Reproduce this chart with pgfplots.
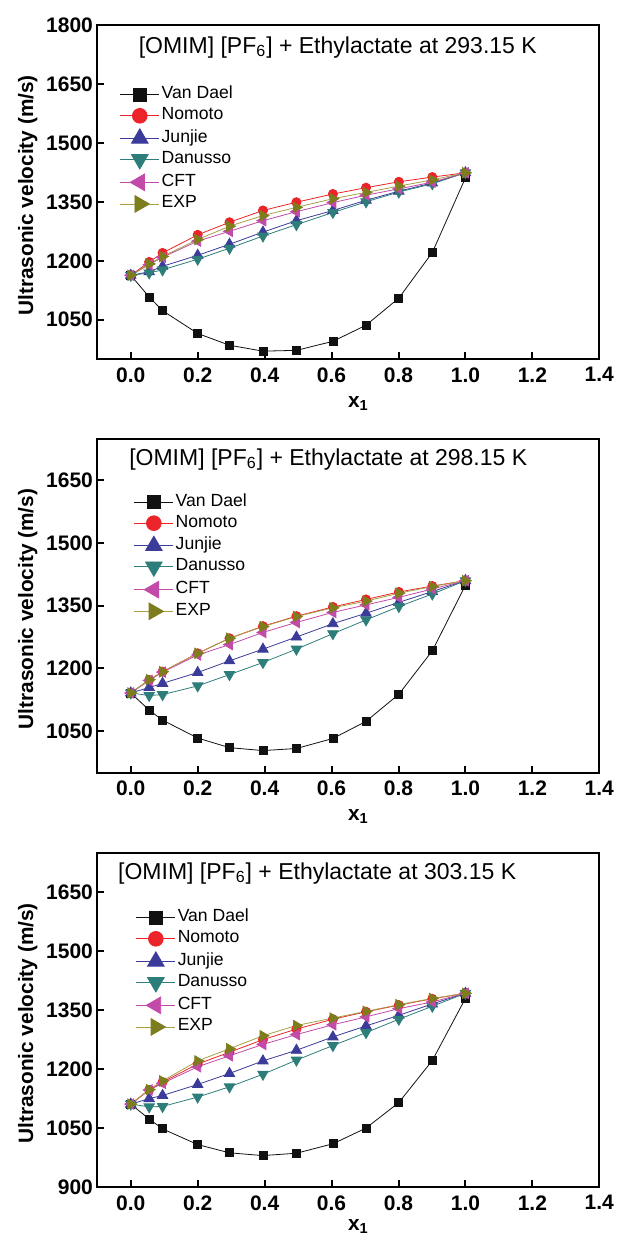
\documentclass[border=0pt]{standalone}
\usepackage{fontspec}
\setmainfont{Liberation Sans}
\usepackage{pgfplots}
\pgfplotsset{compat=1.18}
\usepackage{pgfplotstable}

\definecolor{cvd}{HTML}{111111}
\definecolor{cno}{HTML}{EC2328}
\definecolor{cju}{HTML}{3B3B99}
\definecolor{cda}{HTML}{2D7E7A}
\definecolor{ccf}{HTML}{C24AA8}
\definecolor{cex}{HTML}{7D7D1E}
\definecolor{lex}{HTML}{A89F45}

\pgfplotstableread{
x vd no ju da cf ex
0.000 1163 1163 1163 1163 1163 1163
0.055 1108 1197 1172 1169 1190 1192
0.095 1073 1220 1186 1177 1209 1211
0.200 1015 1266 1214 1204 1250 1254
0.295 985 1298 1242 1232 1275 1288
0.395 970 1328 1273 1263 1302 1315
0.495 972 1349 1302 1292 1325 1336
0.604 995 1370 1328 1323 1348 1358
0.703 1036 1386 1354 1350 1367 1374
0.801 1105 1401 1377 1375 1383 1390
0.901 1221 1413 1398 1396 1400 1406
1.000 1411 1424 1424 1424 1424 1424
}\tA
\pgfplotstableread{
x vd no ju da cf ex
0.000 1141 1141 1141 1141 1141 1141
0.055 1100 1172 1154 1135 1171 1173
0.095 1076 1192 1164 1137 1191 1192
0.200 1033 1236 1190 1158 1232 1236
0.295 1010 1272 1218 1185 1257 1272
0.395 1003 1301 1246 1214 1286 1300
0.495 1008 1325 1275 1246 1310 1324
0.604 1032 1347 1307 1283 1334 1345
0.703 1073 1365 1332 1316 1352 1361
0.801 1138 1383 1358 1348 1370 1380
0.901 1242 1397 1384 1378 1390 1396
1.000 1399 1410 1410 1410 1410 1410
}\tB
\pgfplotstableread{
x vd no ju da cf ex
0.000 1111 1111 1111 1111 1111 1111
0.055 1073 1147 1125 1104 1147 1148
0.095 1048 1167 1133 1105 1164 1170
0.200 1008 1213 1161 1129 1206 1221
0.295 987 1243 1189 1155 1234 1252
0.395 980 1275 1221 1187 1263 1285
0.495 986 1302 1248 1223 1288 1311
0.604 1010 1327 1282 1260 1313 1330
0.703 1050 1346 1310 1293 1333 1347
0.801 1115 1363 1337 1327 1354 1364
0.901 1222 1379 1366 1360 1371 1380
1.000 1380 1393 1393 1393 1393 1393
}\tC

\pgfplotsset{
  panel/.style={
    width=251pt, height=167pt, scale only axis,
    xmin=-0.1, xmax=1.4,
    xtick={0,0.2,0.4,0.6,0.8,1.0,1.2,1.4},
    axis line style={line width=1pt},
    major tick length=3.5pt,
    major tick style={line width=1pt, black},
    tick align=inside, xtick pos=bottom, ytick pos=left,
    tick label style={font=\fontsize{10.5}{12}\selectfont\bfseries},
    /pgf/number format/assume math mode=true,
    /pgf/number format/1000 sep={},
    xticklabel style={/pgf/number format/fixed, /pgf/number format/fixed zerofill, /pgf/number format/precision=1, inner sep=4pt},
    yticklabel style={inner sep=2pt},
    xlabel={x\textsubscript{1}},
    ylabel={Ultrasonic velocity (m/s)},
    label style={font=\fontsize{10.4}{12}\selectfont\bfseries},
    xlabel style={at={(rel axis cs:0.52,-0.132)}, anchor=center},
    ylabel style={at={(rel axis cs:-0.1388,0.49)}, anchor=center},
    legend cell align=left,
    legend image code/.code={\draw[mark repeat=2,mark phase=2,##1,every mark/.append style={scale=1.6}] plot coordinates {(0pt,0pt) (9.75pt,0pt) (19.5pt,0pt)};},
    legend style={draw=none, fill=none, anchor=north west, inner sep=0pt, outer sep=0pt, row sep=2.5pt,
      font=\fontsize{8.8}{10}\selectfont,
      nodes={inner xsep=1pt, inner ysep=0pt, text height=6pt, text depth=2pt}},
  },
  svd/.style={color=cvd, line width=0.4pt, mark=square*, mark size=2pt, mark options={fill=cvd, draw=cvd}},
  sno/.style={color=cno, line width=0.4pt, mark=*, mark size=2.3pt, mark options={fill=cno, draw=cno}},
  sju/.style={color=cju, line width=0.4pt, mark=triangle*, mark size=3pt, mark options={fill=cju, draw=cju}},
  sda/.style={color=cda, line width=0.4pt, mark=triangle*, mark size=3pt, mark options={fill=cda, draw=cda, rotate=180}},
  scf/.style={color=ccf, line width=0.4pt, mark=triangle*, mark size=3pt, mark options={fill=ccf, draw=ccf, rotate=90}},
  sex/.style={color=lex, line width=0.4pt, mark=triangle*, mark size=3pt, mark options={fill=cex, draw=cex, rotate=-90}},
}

\begin{document}
\begin{tikzpicture}
\path[use as bounding box] (0,0) rectangle (308.5pt,-618.5pt);

\begin{axis}[panel, at={(48.65pt,-179.5pt)}, anchor=south west,
  ymin=950, ymax=1800, ytick={1050,1200,1350,1500,1650,1800},
  legend style={at={(rel axis cs:0.045,0.815)}}]
\addplot[svd] table[x=x,y=vd]{\tA};
\addplot[sno] table[x=x,y=no]{\tA};
\addplot[sju] table[x=x,y=ju]{\tA};
\addplot[sda] table[x=x,y=da]{\tA};
\addplot[scf] table[x=x,y=cf]{\tA};
\addplot[sex] table[x=x,y=ex]{\tA};
\legend{Van Dael,Nomoto,Junjie,Danusso,CFT,EXP}
\node[font=\fontsize{11.5}{13}\selectfont] at (rel axis cs:0.479,0.934) {[OMIM] [PF\textsubscript{6}] + Ethylactate at 293.15 K};
\end{axis}

\begin{axis}[panel, at={(48.65pt,-386.35pt)}, anchor=south west,
  ymin=950, ymax=1750, ytick={1050,1200,1350,1500,1650},
  legend style={at={(rel axis cs:0.073,0.834)}}]
\addplot[svd] table[x=x,y=vd]{\tB};
\addplot[sno] table[x=x,y=no]{\tB};
\addplot[sju] table[x=x,y=ju]{\tB};
\addplot[sda] table[x=x,y=da]{\tB};
\addplot[scf] table[x=x,y=cf]{\tB};
\addplot[sex] table[x=x,y=ex]{\tB};
\legend{Van Dael,Nomoto,Junjie,Danusso,CFT,EXP}
\node[font=\fontsize{11.5}{13}\selectfont] at (rel axis cs:0.46,0.938) {[OMIM] [PF\textsubscript{6}] + Ethylactate at 298.15 K};
\end{axis}

\begin{axis}[panel, at={(48.65pt,-593.5pt)}, anchor=south west,
  ymin=900, ymax=1750, ytick={900,1050,1200,1350,1500,1650},
  xlabel style={at={(rel axis cs:0.52,-0.118)}},
  legend style={at={(rel axis cs:0.077,0.83)}}]
\addplot[svd] table[x=x,y=vd]{\tC};
\addplot[sno] table[x=x,y=no]{\tC};
\addplot[sju] table[x=x,y=ju]{\tC};
\addplot[sda] table[x=x,y=da]{\tC};
\addplot[scf] table[x=x,y=cf]{\tC};
\addplot[sex] table[x=x,y=ex]{\tC};
\legend{Van Dael,Nomoto,Junjie,Danusso,CFT,EXP}
\node[font=\fontsize{11.5}{13}\selectfont] at (rel axis cs:0.438,0.94) {[OMIM] [PF\textsubscript{6}] + Ethylactate at 303.15 K};
\end{axis}
\end{tikzpicture}
\end{document}
